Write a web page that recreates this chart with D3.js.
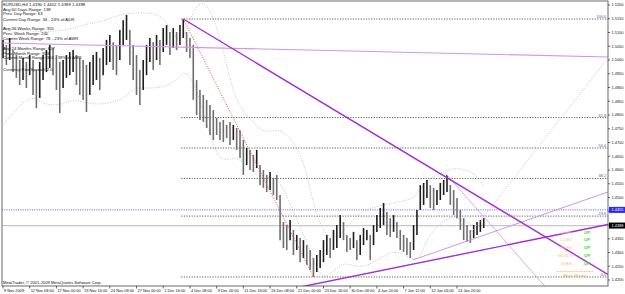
<!DOCTYPE html>
<html>
<head>
<meta charset="utf-8">
<script src="https://cdn.jsdelivr.net/npm/d3@7"></script>
<style>
  body { margin: 0; background: #fff; }
  svg { display: block; font-family: "Liberation Sans", Arial, sans-serif; }
</style>
</head>
<body>
<svg id="chart" width="625" height="294"></svg>
<script>
// H4 bars, two per column (price units)
const barHigh = [
  1.5073,1.5055,1.5080,1.5036,1.5018,1.5000,1.5007,1.4993,1.5018,1.5000,
  1.4964,1.4993,1.5018,1.5036,1.5055,1.5044,1.5018,1.4993,1.5000,1.5018,
  1.5029,1.5036,1.5018,1.5007,1.5000,1.4982,1.4993,1.5018,1.5029,1.5007,
  1.5044,1.5073,1.5091,1.5065,1.5055,1.5109,1.5145,1.5164,1.5109,1.5055,
  1.5018,1.4964,1.5000,1.5055,1.5080,1.5065,1.5091,1.5073,1.5116,1.5127,
  1.5102,1.5116,1.5102,1.5127,1.5149,1.5102,1.5080,1.5055,1.4927,1.4891,
  1.4873,1.4855,1.4836,1.4818,1.4789,1.4775,1.4782,1.4764,1.4775,1.4764,
  1.4753,1.4745,1.4709,1.4680,1.4673,1.4655,1.4673,1.4618,1.4600,1.4582,
  1.4593,1.4571,1.4582,1.4509,1.4411,1.4400,1.4418,1.4382,1.4364,1.4353,
  1.4345,1.4327,1.4309,1.4280,1.4291,1.4309,1.4345,1.4364,1.4353,1.4382,
  1.4400,1.4436,1.4411,1.4364,1.4353,1.4375,1.4345,1.4364,1.4389,1.4382,
  1.4364,1.4400,1.4436,1.4462,1.4480,1.4447,1.4425,1.4436,1.4411,1.4382,
  1.4364,1.4353,1.4338,1.4400,1.4455,1.4545,1.4553,1.4564,1.4545,1.4535,
  1.4527,1.4553,1.4564,1.4582,1.4545,1.4527,1.4498,1.4455,1.4425,1.4400,
  1.4382,1.4400,1.4411,1.4418,1.4425
];
const barLow = [
  1.5007,1.4982,1.5000,1.4956,1.4935,1.4909,1.4927,1.4898,1.4945,1.4873,
  1.4825,1.4862,1.4927,1.4956,1.4971,1.4945,1.4891,1.4807,1.4898,1.4935,
  1.4945,1.4956,1.4909,1.4873,1.4855,1.4811,1.4873,1.4909,1.4927,1.4891,
  1.4945,1.4982,1.4993,1.4964,1.4945,1.5000,1.5055,1.5073,1.4982,1.4927,
  1.4873,1.4836,1.4891,1.4945,1.4993,1.4964,1.5000,1.4982,1.5029,1.5055,
  1.5018,1.5044,1.5036,1.5055,1.5080,1.5029,1.5007,1.4855,1.4800,1.4782,
  1.4775,1.4753,1.4727,1.4709,1.4727,1.4709,1.4702,1.4716,1.4691,1.4709,
  1.4673,1.4644,1.4582,1.4618,1.4600,1.4593,1.4607,1.4545,1.4535,1.4520,
  1.4527,1.4509,1.4491,1.4345,1.4316,1.4309,1.4345,1.4291,1.4309,1.4265,
  1.4280,1.4255,1.4236,1.4211,1.4229,1.4244,1.4265,1.4291,1.4280,1.4309,
  1.4316,1.4353,1.4345,1.4302,1.4309,1.4316,1.4273,1.4291,1.4327,1.4345,
  1.4273,1.4327,1.4375,1.4389,1.4400,1.4364,1.4356,1.4375,1.4353,1.4309,
  1.4302,1.4291,1.4280,1.4309,1.4364,1.4455,1.4473,1.4498,1.4462,1.4455,
  1.4473,1.4491,1.4509,1.4520,1.4473,1.4436,1.4425,1.4382,1.4345,1.4338,
  1.4335,1.4353,1.4364,1.4375,1.4389
];

// bollinger style envelope, sampled at these bars
const bandBars = [0,3,6,9,12,15,18,21,24,27,30,33,36,39,42,45,48,50,52,54,56,58,60,62,64,66,68,70,72,75,
  78,81,84,87,90,92,94,96,99,102,105,108,111,114,117,120,123,125,127,130,133,136,139,142,144];
const bandUpper = [1.5116,1.5113,1.5109,1.5105,1.5102,1.5105,1.5109,1.5116,1.5127,1.5135,1.5142,1.5156,1.5167,1.5171,1.5171,
  1.5171,1.5153,1.5116,1.5073,1.5080,1.5145,1.5200,1.5211,1.5182,1.5120,1.5036,1.4927,1.4855,1.4811,1.4775,
  1.4735,1.4745,1.4742,1.4702,1.4636,1.4527,1.4436,1.4375,1.4345,1.4375,1.4422,1.4451,1.4465,1.4473,1.4480,
  1.4487,1.4498,1.4527,1.4564,1.4582,1.4600,1.4607,1.4600,1.4578,1.4542];
const bandLower = [1.4764,1.4807,1.4847,1.4869,1.4840,1.4836,1.4840,1.4855,1.4847,1.4840,1.4840,1.4847,1.4858,1.4898,1.4898,
  1.4898,1.4902,1.4913,1.4927,1.4956,1.4945,1.4891,1.4811,1.4727,1.4655,1.4636,1.4640,1.4644,1.4629,1.4593,
  1.4564,1.4582,1.4538,1.4447,1.4364,1.4309,1.4236,1.4207,1.4229,1.4265,1.4251,1.4247,1.4265,1.4287,1.4305,
  1.4295,1.4273,1.4280,1.4353,1.4393,1.4425,1.4429,1.4407,1.4393,1.4400];

// drawn objects: [bar, price] end points
const downTrend = [[54, 1.5149], [181.2, 1.4220]];
const upTrend = [[89, 1.41745], [181.2, 1.44018]];
const flatLine = [[-1, 1.5062], [181.2, 1.5011]];
const peakLine = [[133, 1.4582], [163.3, 1.4164]];
const riseLine = [[122.8, 1.4273], [181.2, 1.4520]];
const dotRise = [[139.9, 1.4367], [181.2, 1.5007]];
const fiboBars = [54, 93];
const fiboHigh = 1.5149, fiboLow = 1.4211;
const fiboLevels = [100, 61.8, 50, 38.2, 23.6, 0];
const fiboNames = ["100.0", "61.8", "50.0", "38.2", "23.6", "0.0"];
const bluePrice = 1.4455;
const bidPrice = 1.4398;

const priceTicks = [1.4200,1.4250,1.4300,1.4350,1.4400,1.4450,1.4500,1.4550,1.4600,1.4650,1.4700,
  1.4750,1.4800,1.4850,1.4900,1.4950,1.5000,1.5050,1.5100,1.5150,1.5200];
const timeLabels = ["9 Nov 2009","12 Nov 08:00","17 Nov 00:00","19 Nov 16:00","24 Nov 08:00","27 Nov 00:00",
  "1 Dec 16:00","4 Dec 08:00","9 Dec 00:00","11 Dec 16:00","16 Dec 08:00","21 Dec 00:00","23 Dec 16:00",
  "30 Dec 08:00","4 Jan 20:00","7 Jan 12:00","12 Jan 04:00","14 Jan 20:00"];
const timeLabelBars = timeLabels.map((d, k) => k * 8);

const infoLines = [
  ["EURUSD,H4 1.4390 1.4402 1.4389 1.4398", 5.8],
  ["Avg 60 Days Range: 138", 10.5],
  ["Prev. Day Range: 63", 15],
  ["Current Day Range: 34 - 24% of ADR", 20.5],
  ["Avg 26 Weeks Range: 355", 29.8],
  ["Prev. Week Range: 240", 34.8],
  ["Current Week Range: 78 - 23% of AWR", 40.2],
  ["Avg 24 Months Range: 827", 49.8],
  ["Prev. Month Range: 923", 54.5],
  ["Current Month Range: 316 - 38% of AMR", 59.2],
  ["Currency Pair Spread: 2.0", 70.8]
];
const moveNames = ["4-HR", "1-DAY", "WEEK", "MONTH", "YEAR"];
const moveStates = ["UP", "UP", "UP", "UP", "UP"];

const W = 625, H = 294;
const plotL = 2, plotR = 608, plotT = 1, plotB = 286;

const svg = d3.select("#chart");
const x = d3.scaleLinear().domain([0, 136]).range([3, 457]);
const y = d3.scaleLinear().domain([1.42, 1.52]).range([280, 5]);

svg.append("rect").attr("width", W).attr("height", H).attr("fill", "#fff");

svg.append("clipPath").attr("id", "plot")
  .append("rect").attr("x", plotL).attr("y", plotT).attr("width", plotR - plotL).attr("height", plotB - plotT);

const plot = svg.append("g").attr("clip-path", "url(#plot)");

// bands
const bandLine = arr => d3.line()
  .x((d, i) => x(bandBars[i]))
  .y(d => y(d))
  .curve(d3.curveBasis)(arr);
[bandUpper, bandLower].forEach(b => {
  plot.append("path").attr("d", bandLine(b))
    .attr("fill", "none").attr("stroke", "#b4b4b4")
    .attr("stroke-width", 0.8).attr("stroke-dasharray", "1,1.5");
});

// fibo levels
const fiboY = lvl => y(fiboLow + (fiboHigh - fiboLow) * lvl / 100);
plot.append("g").selectAll("line").data(fiboLevels).enter().append("line")
  .attr("x1", x(fiboBars[0]) - 2).attr("x2", plotR)
  .attr("y1", d => fiboY(d)).attr("y2", d => fiboY(d))
  .attr("stroke", "#333").attr("stroke-width", 0.8).attr("stroke-dasharray", "1.2,1.4");
plot.append("g").selectAll("text").data(fiboLevels).enter().append("text")
  .attr("x", plotR - 2).attr("y", d => fiboY(d) - 1)
  .attr("text-anchor", "end").attr("font-size", 3.8).attr("fill", "#4a5a7a")
  .text((d, i) => fiboNames[i]);

// horizontal lines
plot.append("line").attr("x1", plotL).attr("x2", plotR)
  .attr("y1", y(bluePrice)).attr("y2", y(bluePrice))
  .attr("stroke", "#4a4aff").attr("stroke-width", 0.9).attr("stroke-dasharray", "1,1.3");
plot.append("line").attr("x1", plotL).attr("x2", plotR)
  .attr("y1", y(bidPrice)).attr("y2", y(bidPrice))
  .attr("stroke", "#c8c8c8").attr("stroke-width", 1.2);

// bars
const mid = i => (barHigh[i] + barLow[i]) / 2;
plot.append("g").selectAll("line").data(barHigh).enter().append("line")
  .attr("x1", (d, i) => x(i)).attr("x2", (d, i) => x(i))
  .attr("y1", d => y(d)).attr("y2", (d, i) => y(barLow[i]))
  .attr("stroke", (d, i) => (i > 0 && mid(i) < mid(i - 1)) ? "#6e6e6e" : "#1e1e1e")
  .attr("stroke-width", 1.6);

// trend objects
const seg = (pts, color, w, dash) => {
  plot.append("line")
    .attr("x1", x(pts[0][0])).attr("y1", y(pts[0][1]))
    .attr("x2", x(pts[1][0])).attr("y2", y(pts[1][1]))
    .attr("stroke", color).attr("stroke-width", w)
    .attr("stroke-dasharray", dash || null);
};
seg(flatLine, "#d495e4", 1.1);
seg(peakLine, "#d9a0e6", 0.9);
seg(riseLine, "#d295e2", 1);
seg(dotRise, "#d8a0e8", 0.9, "1,1.6");
seg([[fiboBars[0], fiboHigh], [fiboBars[1], fiboLow]], "#ff3030", 0.9, "1,1.5");
seg(downTrend, "#a22fd0", 1.4);
seg(upTrend, "#a22fd0", 1.4);

// move panel
const panel = plot.append("g").attr("font-size", 4.4);
panel.selectAll("text.name").data(moveNames).enter().append("text")
  .attr("x", 566).attr("y", (d, i) => 233.5 + i * 7.8)
  .attr("text-anchor", "middle").attr("fill", "#f6c9a2").text(d => d);
panel.selectAll("text.state").data(moveStates).enter().append("text")
  .attr("x", 584).attr("y", (d, i) => 233.5 + i * 7.8)
  .attr("fill", "#33dd33").attr("font-weight", "bold").text(d => d);
panel.append("line").attr("x1", 557).attr("x2", 593).attr("y1", 271.5).attr("y2", 271.5)
  .attr("stroke", "#f3a640").attr("stroke-width", 0.8).attr("stroke-dasharray", "0.8,0.8");
panel.append("text").attr("x", 575).attr("y", 277).attr("text-anchor", "middle")
  .attr("fill", "#f3a640").text("Main Moves");

// info text
svg.append("g").selectAll("text").data(infoLines).enter().append("text")
  .attr("x", 3).attr("y", d => d[1])
  .attr("font-size", 4.3).attr("fill", "#111").text(d => d[0]);
svg.append("text").attr("x", 3).attr("y", 283.5).attr("font-size", 4.1).attr("fill", "#111")
  .text("MetaTrader, \u00a9 2001-2009 MetaQuotes Software Corp.");

// frame
svg.append("rect").attr("x", plotL).attr("y", plotT).attr("width", plotR - plotL).attr("height", plotB - plotT)
  .attr("fill", "none").attr("stroke", "#444").attr("stroke-width", 0.8);

// price axis
const pAxis = svg.append("g");
pAxis.selectAll("line").data(priceTicks).enter().append("line")
  .attr("x1", plotR).attr("x2", plotR + 2).attr("y1", d => y(d)).attr("y2", d => y(d))
  .attr("stroke", "#222").attr("stroke-width", 0.7);
pAxis.selectAll("text").data(priceTicks).enter().append("text")
  .attr("x", plotR + 3.5).attr("y", d => y(d) + 1.4)
  .attr("font-size", 3.9).attr("fill", "#111").text(d => d.toFixed(4));

[[bluePrice, "#2b2bff"], [bidPrice, "#000"]].forEach(([p, c]) => {
  svg.append("rect").attr("x", plotR + 1).attr("y", y(p) - 3).attr("width", W - plotR - 1).attr("height", 6)
    .attr("fill", c);
  svg.append("text").attr("x", plotR + 3.5).attr("y", y(p) + 1.5)
    .attr("font-size", 3.9).attr("fill", "#fff").text(p.toFixed(4));
});

// time axis
const tAxis = svg.append("g");
tAxis.selectAll("line").data(timeLabelBars).enter().append("line")
  .attr("x1", d => x(d)).attr("x2", d => x(d)).attr("y1", plotB).attr("y2", plotB + 2.5)
  .attr("stroke", "#222").attr("stroke-width", 0.7);
tAxis.selectAll("text").data(timeLabels).enter().append("text")
  .attr("x", (d, i) => x(timeLabelBars[i]) + 1).attr("y", 291.8)
  .attr("font-size", 3.9).attr("fill", "#111").text(d => d);
</script>
</body>
</html>
